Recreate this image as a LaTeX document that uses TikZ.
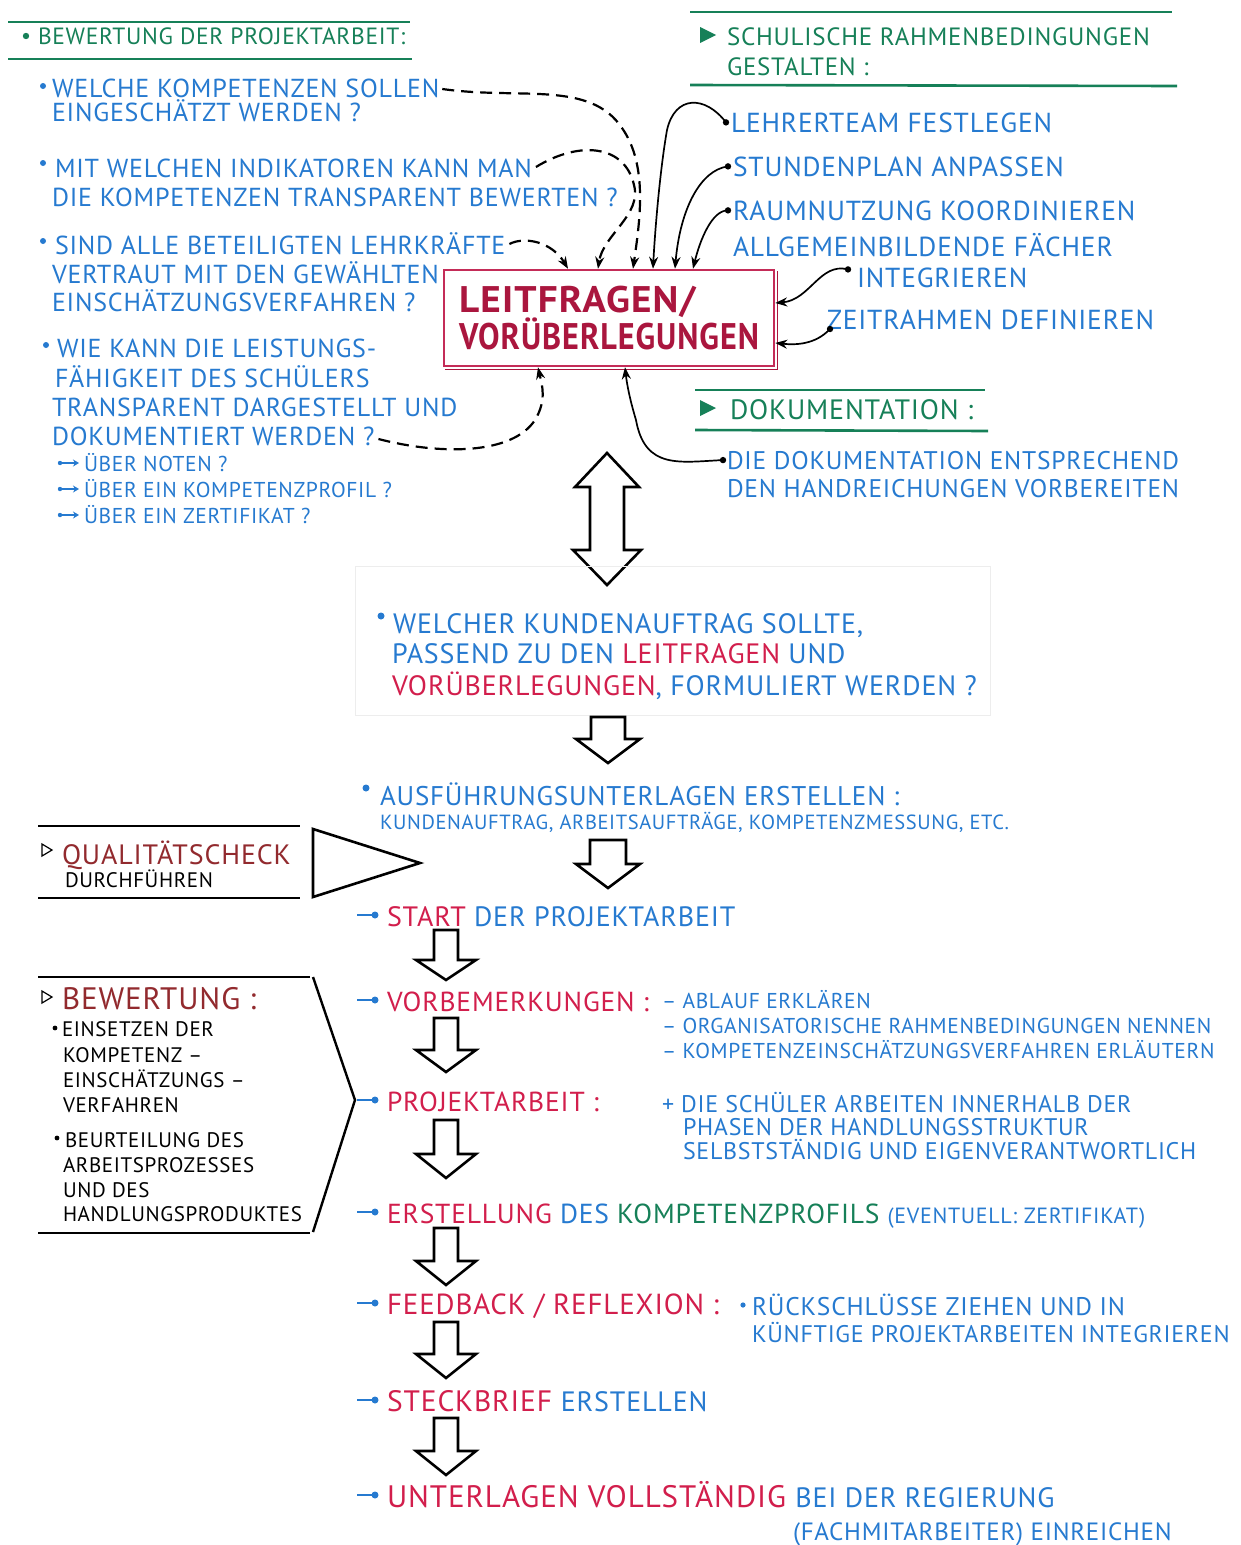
\documentclass[tikz,border=0pt]{standalone}
\usepackage{fontspec}
\setmainfont[LetterSpace=3]{PT Sans}
\usepackage{graphicx}
\usetikzlibrary{arrows.meta}
\definecolor{hgreen}{RGB}{22,128,88}
\definecolor{hblue}{RGB}{38,122,208}
\definecolor{hred}{RGB}{210,30,76}
\definecolor{hboxc}{RGB}{196,44,88}
\definecolor{hboxt}{RGB}{170,22,62}
\definecolor{hbrown}{RGB}{146,42,46}
\newcommand\hdown[6]{\draw[hol] (#1-#3,#2) -- (#1+#3,#2) -- (#1+#3,#2+#5) -- (#1+#4,#2+#5) -- (#1,#2+#5+#6) -- (#1-#4,#2+#5) -- (#1-#3,#2+#5) -- cycle;}
\newcommand\fbul[1]{\draw[hblue, line width=1.6pt] (357,#1) -- (372,#1); \fill[hblue] (375,#1) circle (3.5);}
\newcommand\subarr[1]{\fill[hblue] (60,#1) circle (2.2); \draw[hblue, line width=1.4pt, -{Stealth[length=6pt,width=7pt]}] (60,#1) -- (79,#1);}
\tikzset{
  tx/.style={anchor=base west, inner sep=0pt, outer sep=0pt},
  fs/.style={font=\fontsize{#1}{#1}\selectfont},
  bl/.style={tx, text=hblue},
  gr/.style={tx, text=hgreen},
  rd/.style={tx, text=hred},
  bk/.style={tx, text=black},
  gline/.style={hgreen, line width=2.6pt},
  kline/.style={black, line width=1.6pt},
  hol/.style={draw=black, line width=2.6pt, fill=white, line join=miter},
  dar/.style={black, line width=2.2pt, dash pattern=on 12pt off 7pt, -{Stealth[length=12pt,width=9pt]}},
  sar/.style={black, line width=1.7pt, -{Stealth[length=12pt,width=9pt]}},
}
\begin{document}
\begin{tikzpicture}[x=1pt,y=-1pt]
\useasboundingbox (0,0) rectangle (1240,1545);
\fill[white] (0,0) rectangle (1240,1545);

% ---------- top left: Bewertung der Projektarbeit
\draw[gline] (8,22) -- (410,22);
\draw[gline] (8,59) -- (412,59);
\fill[hgreen] (26,36) circle (3.2);
\node[gr, fs=23.5] (hdrL) at (38,44) {BEWERTUNG DER PROJEKTARBEIT:};

\fill[hblue] (43,86) circle (3);
\node[bl, fs=26] (q1a) at (52,97) {WELCHE KOMPETENZEN SOLLEN};
\node[bl, fs=26] (q1b) at (52,121) {EINGESCHÄTZT WERDEN ?};
\fill[hblue] (43,163) circle (3);
\node[bl, fs=26] (q2a) at (55,177) {MIT WELCHEN INDIKATOREN KANN MAN};
\node[bl, fs=26] (q2b) at (52,206) {DIE KOMPETENZEN TRANSPARENT BEWERTEN ?};
\fill[hblue] (43,241) circle (3);
\node[bl, fs=26] (q3a) at (55,254) {SIND ALLE BETEILIGTEN LEHRKRÄFTE};
\node[bl, fs=26] (q3b) at (52,283) {VERTRAUT MIT DEN GEWÄHLTEN};
\node[bl, fs=26] (q3c) at (52,311) {EINSCHÄTZUNGSVERFAHREN ?};
\fill[hblue] (46,345) circle (3);
\node[bl, fs=26] (q4a) at (57,357) {WIE KANN DIE LEISTUNGS-};
\node[bl, fs=26] (q4b) at (55,387) {FÄHIGKEIT DES SCHÜLERS};
\node[bl, fs=26] (q4c) at (52,416) {TRANSPARENT DARGESTELLT UND};
\node[bl, fs=26] (q4d) at (52,445) {DOKUMENTIERT WERDEN ?};
\subarr{463}
\node[bl, fs=21.5] (s1) at (84,471) {ÜBER NOTEN ?};
\subarr{489}
\node[bl, fs=21.5] (s2) at (84,497) {ÜBER EIN KOMPETENZPROFIL ?};
\subarr{515}
\node[bl, fs=21.5] (s3) at (84,523) {ÜBER EIN ZERTIFIKAT ?};

% ---------- top right
\draw[gline] (690,12) -- (1172,12);
\draw[gline] (690,85) -- (1177,86);
\fill[hgreen] (700,27) -- (716,35) -- (700,43) -- cycle;
\node[gr, fs=25] (hdrR1) at (727,45) {SCHULISCHE RAHMENBEDINGUNGEN};
\node[gr, fs=25] (hdrR2) at (727,75) {GESTALTEN :};
\node[bl, fs=27.5] (r1) at (731,132) {LEHRERTEAM FESTLEGEN};
\node[bl, fs=27.5] (r2) at (733,176) {STUNDENPLAN ANPASSEN};
\node[bl, fs=27.5] (r3) at (733,220) {RAUMNUTZUNG KOORDINIEREN};
\node[bl, fs=27.5] (r4) at (733,256) {ALLGEMEINBILDENDE FÄCHER};
\node[bl, fs=27.5] (r5) at (857,287) {INTEGRIEREN};
\node[bl, fs=27.5] (r6) at (827,329) {ZEITRAHMEN DEFINIEREN};

\draw[gline] (695,390) -- (985,390);
\draw[gline] (695,430) -- (988,431);
\fill[hgreen] (700,400) -- (716,408) -- (700,416) -- cycle;
\node[gr, fs=28] (hdrD) at (730,419) {DOKUMENTATION :};
\node[bl, fs=25.5] (d1) at (727,469) {DIE DOKUMENTATION ENTSPRECHEND};
\node[bl, fs=25.5] (d2) at (727,497) {DEN HANDREICHUNGEN VORBEREITEN};

% ---------- central box
\node[draw=hboxc, line width=2.5pt, minimum width=330pt, minimum height=96pt, inner sep=0pt,
      align=left, text=hboxt, font=\bfseries\fontsize{37}{36}\selectfont] (lv) at (609,318)
      {\scalebox{1.06}[1]{LEITFRAGEN/}\\\scalebox{0.87}[1]{VORÜBERLEGUNGEN}};
\draw[hboxt, line width=1.5pt] ([shift={(2pt,-2pt)}]lv.south west) -- ([shift={(2pt,-2pt)}]lv.south east) -- ([shift={(2pt,-2pt)}]lv.north east);

% dashed connectors
\draw[dar] ([xshift=3pt,yshift=8pt]q1a.base east) .. controls (520,100) and (590,80) .. (622,128) .. controls (648,165) and (640,220) .. ([xshift=24pt]lv.north);
\draw[dar] ([xshift=4pt,yshift=10pt]q2a.base east) .. controls (580,140) and (625,145) .. (634,185) .. controls (642,215) and (603,235) .. ([xshift=-11pt]lv.north);
\draw[dar] ([xshift=4pt,yshift=10pt]q3a.base east) .. controls (525,236) and (552,242) .. ([xshift=-41pt]lv.north);
\draw[dar] ([xshift=4pt,yshift=6pt]q4d.base east) .. controls (440,455) and (512,455) .. (535,420) .. controls (547,400) and (542,385) .. ([xshift=-71pt]lv.south);

% solid connectors
\fill ([xshift=-5pt]r1.west) circle (3.2);
\draw[sar] ([xshift=-5pt]r1.west) .. controls (705,95) and (675,95) .. (667,130) .. controls (660,170) and (655,230) .. ([xshift=44pt]lv.north);
\fill ([xshift=-5pt]r2.west) circle (3.2);
\draw[sar] ([xshift=-5pt]r2.west) .. controls (700,170) and (680,210) .. ([xshift=66pt]lv.north);
\fill ([xshift=-5pt]r3.west) circle (3.2);
\draw[sar] ([xshift=-5pt]r3.west) .. controls (712,210) and (700,240) .. ([xshift=84pt]lv.north);
\fill ([xshift=-9pt,yshift=-2pt]r5.north west) circle (3.2);
\draw[sar] ([xshift=-9pt,yshift=-2pt]r5.north west) .. controls (820,262) and (810,300) .. ([yshift=15pt]lv.east);
\fill ([xshift=3pt]r6.base west) circle (3.2);
\draw[sar] ([xshift=3pt]r6.base west) .. controls (815,345) and (795,345) .. ([yshift=-25pt]lv.east);
\fill ([xshift=-4pt]d1.west) circle (3.2);
\draw[sar] ([xshift=-4pt]d1.west) .. controls (680,462) and (645,470) .. (636,420) .. controls (630,400) and (627,385) .. ([xshift=16pt]lv.south);

% double arrow
\draw[hol] (607,453) -- (639,487) -- (624,487) -- (624,550) -- (641,550) -- (607,585) -- (573,550) -- (590,550) -- (590,487) -- (575,487) -- cycle;

% ---------- Kundenauftrag
\draw[black!7, line width=1pt] (355,566) rectangle (990,715);
\fill[hblue] (381,616) circle (3.5);
\node[bl, fs=28] (w1) at (393,633) {WELCHER KUNDENAUFTRAG SOLLTE,};
\node[bl, fs=28] (w2) at (392,663) {PASSEND ZU DEN {\color{hred}LEITFRAGEN} UND};
\node[bl, fs=28] (w3) at (392,695) {{\color{hred}VORÜBERLEGUNGEN}, FORMULIERT WERDEN ?};
\hdown{608}{717}{17}{32}{22}{24}

\fill[hblue] (366,788) circle (3.5);
\node[bl, fs=27] (a1) at (380,805) {AUSFÜHRUNGSUNTERLAGEN ERSTELLEN :};
\node[bl, fs=20.5] (a2) at (380,829) {KUNDENAUFTRAG, ARBEITSAUFTRÄGE, KOMPETENZMESSUNG, ETC.};
\hdown{608}{840}{18}{32}{24}{24}

% ---------- Qualitaetscheck
\draw[kline] (38,826) -- (300,826);
\draw[kline] (38,898) -- (300,898);
\draw[black, line width=1.2pt] (42,844) -- (52,850) -- (42,856) -- cycle;
\node[tx, text=hbrown, fs=28] (qc1) at (62,864) {QUALITÄTSCHECK};
\node[bk, fs=21] (qc2) at (65,887) {DURCHFÜHREN};
\draw[black, line width=2.6pt, line join=miter] (313,829) -- (420,863) -- (313,897) -- cycle;

% ---------- Bewertung
\draw[kline] (38,977) -- (310,977);
\draw[kline] (38,1233) -- (310,1233);
\draw[black, line width=1.2pt] (42,991) -- (52,997) -- (42,1003) -- cycle;
\node[tx, text=hbrown, fs=31] (bw0) at (62,1009) {BEWERTUNG :};
\fill (55,1028) circle (2.4);
\node[bk, fs=21] (bw1) at (62,1036) {EINSETZEN DER};
\node[bk, fs=21] (bw2) at (63,1062) {KOMPETENZ –};
\node[bk, fs=21] (bw3) at (63,1087) {EINSCHÄTZUNGS –};
\node[bk, fs=21] (bw4) at (63,1112) {VERFAHREN};
\fill (57,1138) circle (2.4);
\node[bk, fs=21] (bw5) at (65,1147) {BEURTEILUNG DES};
\node[bk, fs=21] (bw6) at (63,1172) {ARBEITSPROZESSES};
\node[bk, fs=21] (bw7) at (63,1197) {UND DES};
\node[bk, fs=21] (bw8) at (63,1221) {HANDLUNGSPRODUKTES};
\draw[black, line width=2.4pt, line join=miter] (313,977) -- (355,1100) -- (313,1232);

% ---------- flow
\fbul{915}
\node[rd, fs=28] (f1) at (387,926) {START {\color{hblue}DER PROJEKTARBEIT}};
\hdown{446}{930}{12}{30}{30}{20}
\fbul{1000}
\node[rd, fs=27.5] (f2) at (387,1011) {VORBEMERKUNGEN :};
\node[bl, fs=21.5] (v1) at (662,1008) {– ABLAUF ERKLÄREN};
\node[bl, fs=21.5] (v2) at (662,1033) {– ORGANISATORISCHE RAHMENBEDINGUNGEN NENNEN};
\node[bl, fs=21.5] (v3) at (662,1058) {– KOMPETENZEINSCHÄTZUNGSVERFAHREN ERLÄUTERN};
\hdown{446}{1018}{12}{30}{32}{22}
\fbul{1100}
\node[rd, fs=27.5] (f3) at (387,1111) {PROJEKTARBEIT :};
\node[bl, fs=24] (p1) at (662,1112) {+ DIE SCHÜLER ARBEITEN INNERHALB DER};
\node[bl, fs=24] (p2) at (683,1135) {PHASEN DER HANDLUNGSSTRUKTUR};
\node[bl, fs=24] (p3) at (683,1159) {SELBSTSTÄNDIG UND EIGENVERANTWORTLICH};
\hdown{446}{1120}{12}{30}{34}{24}
\fbul{1212}
\node[rd, fs=27.5] (f4) at (387,1223) {ERSTELLUNG {\color{hblue}DES} {\color{hgreen}KOMPETENZPROFILS} {\color{hblue}\fontsize{22}{22}\selectfont(EVENTUELL: ZERTIFIKAT)}};
\hdown{446}{1228}{12}{30}{33}{24}
\fbul{1303}
\node[rd, fs=29] (f5) at (387,1314) {FEEDBACK / REFLEXION :};
\fill[hblue] (743,1305) circle (2.6);
\node[bl, fs=25.5] (fb1) at (752,1315) {RÜCKSCHLÜSSE ZIEHEN UND IN};
\node[bl, fs=24] (fb2) at (752,1342) {KÜNFTIGE PROJEKTARBEITEN INTEGRIEREN};
\hdown{446}{1322}{12}{30}{32}{24}
\fbul{1400}
\node[rd, fs=29.5] (f6) at (387,1411) {STECKBRIEF {\color{hblue}\fontsize{28}{28}\selectfont ERSTELLEN}};
\hdown{446}{1418}{12}{30}{33}{24}
\fbul{1495}
\node[rd, fs=31] (f7) at (387,1507) {UNTERLAGEN VOLLSTÄNDIG {\color{hblue}\fontsize{28}{28}\selectfont BEI DER REGIERUNG}};
\node[bl, fs=25] (f8) at (793,1540) {(FACHMITARBEITER) EINREICHEN};
\end{tikzpicture}
\end{document}
